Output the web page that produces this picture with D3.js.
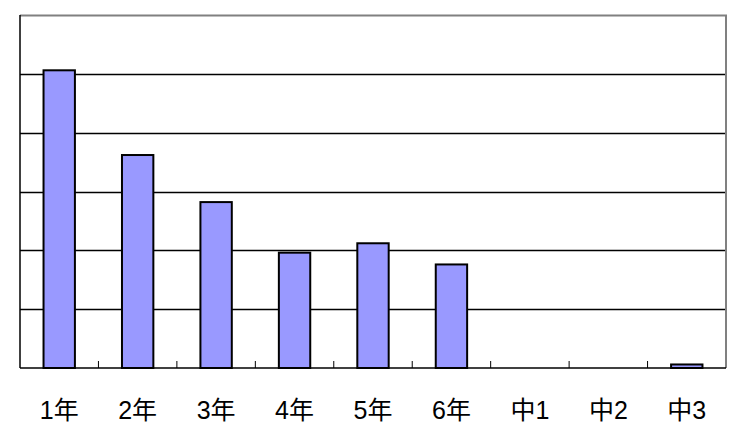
<!DOCTYPE html>
<html>
<head>
<meta charset="utf-8">
<script src="https://cdn.jsdelivr.net/npm/d3@7"></script>
<style>
body { margin:0; background:#fff; }
</style>
</head>
<body>
<svg id="chart" width="746" height="428"></svg>
<script>
//grades and values
var grades = ['1年','2年','3年','4年','5年','6年','中1','中2','中3'];
var values = [25.3, 18.1, 14.1, 9.8, 10.6, 8.8, 0, 0, 0.3];
var gridTicks = [0, 5, 10, 15, 20, 25, 30];

var plotL = 20, plotT = 15, plotR = 726, plotB = 368;

var svg = d3.select('#chart');

var x = d3.scaleBand().domain(grades).range([plotL, plotR]).paddingInner(0.6).paddingOuter(0.3);
var xb = d3.scaleBand().domain(grades).range([plotL, plotR]);
var y = d3.scaleLinear().domain([0, 30]).range([plotB, plotT]);

//grid lines
svg.append('g')
	.selectAll('line').data(gridTicks.slice(1, -1))
	.enter().append('line')
	.attr('x1', plotL).attr('x2', plotR)
	.attr('y1', function(d){ return Math.round(y(d)) + 0.5 })
	.attr('y2', function(d){ return Math.round(y(d)) + 0.5 })
	.attr('stroke', '#000').attr('stroke-width', 1.3);

//frame top + right
svg.append('path')
	.attr('d', 'M' + plotL + ',' + (plotT + 0.5) + 'H' + plotR + 'V' + plotB)
	.attr('fill', 'none').attr('stroke', '#808080').attr('stroke-width', 2);

//bars
svg.append('g')
	.selectAll('rect').data(values)
	.enter().append('rect')
	.attr('x', function(d, i){ return x(grades[i]) })
	.attr('width', x.bandwidth())
	.attr('y', function(d){ return y(d) })
	.attr('height', function(d){ return plotB - y(d) })
	.attr('fill', function(d){ return d > 0 ? '#9999FF' : 'none' })
	.attr('stroke', function(d){ return d > 0 ? '#000' : 'none' })
	.attr('stroke-width', 2);

//left axis
svg.append('line')
	.attr('x1', plotL).attr('x2', plotL).attr('y1', plotT).attr('y2', plotB)
	.attr('stroke', '#000').attr('stroke-width', 1.5);

//bottom axis with inner ticks
var xAxis = svg.append('g').attr('transform', 'translate(0,' + plotB + ')');
xAxis.append('line')
	.attr('x1', plotL).attr('x2', plotR)
	.attr('stroke', '#000').attr('stroke-width', 1.5);
xAxis.selectAll('.tick').data(grades.slice(1))
	.enter().append('line')
	.attr('class', 'tick')
	.attr('x1', function(d){ return xb(d) }).attr('x2', function(d){ return xb(d) })
	.attr('y1', 0).attr('y2', -7)
	.attr('stroke', '#000').attr('stroke-width', 1);

xAxis.selectAll('text').data(grades)
	.enter().append('text')
	.attr('x', function(d){ return xb(d) + xb.bandwidth() / 2 })
	.attr('y', 51)
	.style('text-anchor', 'middle')
	.style('font-family', "'Liberation Sans', 'Noto Sans CJK JP', sans-serif")
	.style('font-size', '25px')
	.attr('fill', '#000')
	.text(function(d){ return d });
</script>
</body>
</html>
